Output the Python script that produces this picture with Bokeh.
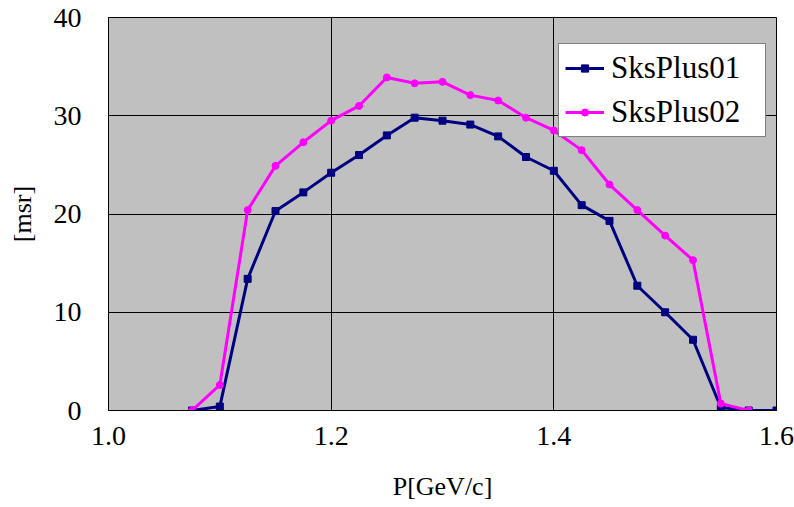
from bokeh.plotting import figure
from bokeh.models import Range1d, FixedTicker, Legend, LegendItem
from bokeh.embed import file_html
from bokeh.resources import INLINE

# Momentum bins [GeV/c]
p_sks01 = [1.075, 1.1, 1.125, 1.15, 1.175, 1.2, 1.225, 1.25, 1.275, 1.3, 1.325,
           1.35, 1.375, 1.4, 1.425, 1.45, 1.475, 1.5, 1.525, 1.55, 1.575, 1.6]
# Acceptance [msr]
acc_sks01 = [0.0, 0.4, 13.4, 20.3, 22.2, 24.2, 26.0, 28.0, 29.8, 29.5, 29.1,
             27.9, 25.8, 24.4, 20.9, 19.3, 12.7, 10.0, 7.2, 0.3, 0.0, 0.0]

p_sks02 = [1.075, 1.1, 1.125, 1.15, 1.175, 1.2, 1.225, 1.25, 1.275, 1.3, 1.325,
           1.35, 1.375, 1.4, 1.425, 1.45, 1.475, 1.5, 1.525, 1.55, 1.575]
acc_sks02 = [0.0, 2.6, 20.4, 24.9, 27.3, 29.5, 31.0, 33.9, 33.3, 33.45, 32.1,
             31.55, 29.8, 28.5, 26.5, 23.0, 20.4, 17.8, 15.3, 0.7, 0.0]

x_ticks = [1.0, 1.2, 1.4, 1.6]
y_ticks = [0, 10, 20, 30, 40]

FONT = "serif"

p = figure(width=794, height=507, output_backend="svg", toolbar_location=None,
           x_range=Range1d(1.0, 1.6), y_range=Range1d(0, 40),
           min_border_left=108, min_border_right=18,
           min_border_top=17, min_border_bottom=97)

p.background_fill_color = "#C0C0C0"
p.border_fill_color = "white"
p.outline_line_color = "black"
p.outline_line_width = 1

for ax in (p.xaxis[0], p.yaxis[0]):
    ax.major_label_text_font = FONT
    ax.major_label_text_font_size = "28px"
    ax.major_label_text_color = "black"
    ax.axis_label_text_font = FONT
    ax.axis_label_text_font_size = "26px"
    ax.axis_label_text_font_style = "normal"
    ax.axis_label_text_color = "black"
    ax.axis_line_color = "black"
    ax.major_tick_out = 0
    ax.major_tick_in = 0
    ax.minor_tick_out = 0
    ax.minor_tick_in = 0

p.xaxis.ticker = FixedTicker(ticks=x_ticks)
p.yaxis.ticker = FixedTicker(ticks=y_ticks)
p.xaxis.major_label_overrides = {t: f"{t:.1f}" for t in x_ticks}
p.xaxis.axis_label = "P[GeV/c]"
p.yaxis.axis_label = "[msr]"
p.xaxis.major_label_standoff = 16
p.xaxis.axis_label_standoff = 24
p.yaxis.major_label_standoff = 27
p.yaxis.axis_label_standoff = 14

p.xgrid.grid_line_color = "black"
p.ygrid.grid_line_color = "black"
p.xgrid.grid_line_width = 1
p.ygrid.grid_line_width = 1

NAVY = "#000080"
MAGENTA = "#FF00FF"

l1 = p.line(p_sks01, acc_sks01, line_color=NAVY, line_width=3)
m1 = p.scatter(p_sks01, acc_sks01, marker="square", size=7,
               fill_color=NAVY, line_color=NAVY)
l2 = p.line(p_sks02, acc_sks02, line_color=MAGENTA, line_width=3)
m2 = p.scatter(p_sks02, acc_sks02, marker="circle", size=7,
               fill_color=MAGENTA, line_color=MAGENTA)

legend = Legend(items=[LegendItem(label="SksPlus01", renderers=[l1, m1]),
                       LegendItem(label="SksPlus02", renderers=[l2, m2])],
                location=(450, 273))
legend.label_text_font = FONT
legend.label_text_font_size = "31px"
legend.label_text_color = "black"
legend.border_line_color = "black"
legend.border_line_width = 1
legend.background_fill_color = "white"
legend.background_fill_alpha = 1.0
legend.glyph_width = 39
legend.glyph_height = 18
legend.label_height = 18
legend.label_width = 148
legend.label_standoff = 7
legend.spacing = 8
legend.padding = 6
legend.margin = 0
p.add_layout(legend, "center")

open("out.html", "w").write(file_html(p, INLINE))
